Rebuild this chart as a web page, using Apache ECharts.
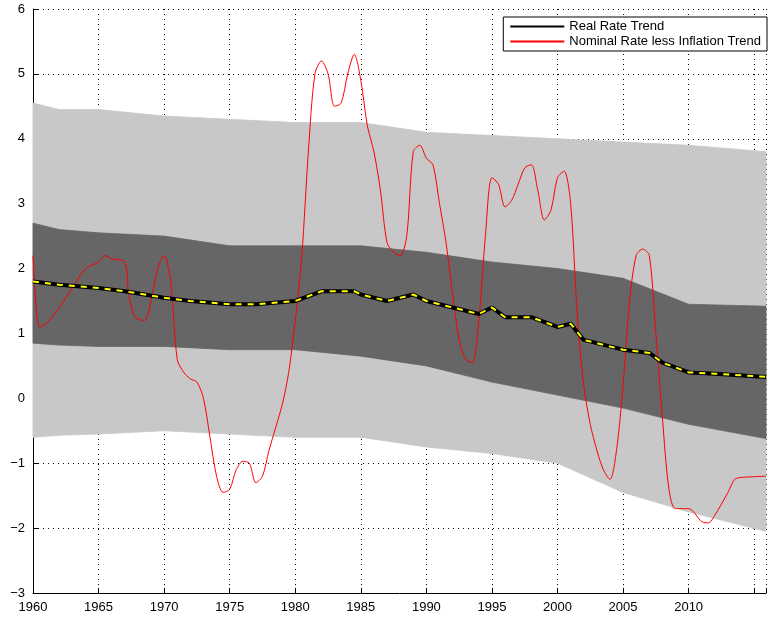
<!DOCTYPE html>
<html lang="en">
<head>
<meta charset="UTF-8">
<title>Real Rate Trend</title>
<style>
  body { margin: 0; background: #fff; }
  #chart { width: 769px; height: 622px; }
</style>
</head>
<body>
<div id="chart"></div>
<script src="https://cdn.jsdelivr.net/npm/echarts@6/dist/echarts.min.js"></script>
<script>
// band years and bounds
const bandYears  = [1960, 1962, 1965, 1970, 1975, 1980, 1985, 1990, 1995, 2000, 2005, 2010, 2015.9];
const outerUpper = [4.55, 4.45, 4.45, 4.35, 4.3, 4.25, 4.25, 4.1, 4.05, 4.0, 3.95, 3.9, 3.8];
const innerUpper = [2.7, 2.6, 2.55, 2.5, 2.35, 2.35, 2.35, 2.25, 2.1, 2.0, 1.85, 1.45, 1.42];
const innerLower = [0.85, 0.82, 0.8, 0.8, 0.75, 0.75, 0.65, 0.5, 0.25, 0.05, -0.15, -0.4, -0.62];
const outerLower = [-0.6, -0.57, -0.55, -0.5, -0.55, -0.6, -0.6, -0.75, -0.85, -1.0, -1.45, -1.75, -2.05];

// real rate trend
const trendYears = [1960, 1962, 1965, 1967, 1970, 1972, 1975, 1977, 1980, 1982, 1984.5, 1985, 1987, 1989, 1990, 1992, 1994, 1995, 1996, 1998, 2000, 2001, 2002, 2004, 2005, 2007, 2008, 2010, 2012, 2015.9];
const trend      = [1.8, 1.75, 1.7, 1.65, 1.55, 1.5, 1.45, 1.45, 1.5, 1.65, 1.65, 1.6, 1.5, 1.6, 1.5, 1.4, 1.3, 1.4, 1.25, 1.25, 1.1, 1.15, 0.9, 0.8, 0.75, 0.7, 0.55, 0.4, 0.38, 0.33];

// nominal rate less inflation trend
const nomYears = [1960, 1960.5, 1961, 1962, 1963, 1964, 1965, 1965.5, 1966, 1967, 1967.3, 1967.8, 1968.5, 1969, 1969.5, 1970, 1970.5, 1971, 1971.5, 1972, 1972.5, 1973, 1973.5, 1974, 1974.5, 1975, 1975.5, 1976, 1976.5, 1977, 1977.5, 1978, 1979, 1979.5, 1980, 1980.5, 1981, 1981.5, 1982, 1982.5, 1983, 1983.5, 1984, 1984.5, 1985, 1985.5, 1986, 1986.5, 1987, 1987.5, 1988, 1988.5, 1989, 1989.5, 1990, 1990.5, 1991, 1991.5, 1992, 1992.5, 1993, 1993.5, 1994, 1994.5, 1995, 1995.5, 1996, 1996.5, 1997, 1997.5, 1998, 1998.5, 1999, 1999.5, 2000, 2000.5, 2001, 2001.5, 2002, 2002.5, 2003, 2003.5, 2004, 2004.5, 2005, 2005.5, 2006, 2006.5, 2007, 2007.5, 2008, 2008.5, 2009, 2010, 2011, 2011.5, 2012, 2013, 2013.5, 2014, 2015.9];
const nominal  = [2.2, 1.1, 1.15, 1.4, 1.7, 2.0, 2.1, 2.2, 2.15, 2.1, 1.6, 1.25, 1.2, 1.5, 2.0, 2.2, 1.8, 0.6, 0.4, 0.3, 0.25, 0.0, -0.6, -1.2, -1.45, -1.4, -1.1, -0.97, -1.0, -1.3, -1.2, -0.8, -0.1, 0.4, 1.2, 2.2, 3.8, 5.0, 5.2, 5.0, 4.5, 4.55, 5.0, 5.3, 4.9, 4.2, 3.8, 3.2, 2.4, 2.25, 2.2, 2.5, 3.8, 3.9, 3.7, 3.6, 3.0, 2.4, 1.6, 0.9, 0.6, 0.55, 1.2, 2.5, 3.4, 3.3, 2.95, 3.05, 3.3, 3.55, 3.6, 3.2, 2.75, 2.9, 3.4, 3.5, 3.0, 1.3, 0.2, -0.4, -0.8, -1.1, -1.25, -0.8, 0.2, 1.5, 2.2, 2.3, 2.2, 1.0, -0.3, -1.4, -1.7, -1.7, -1.9, -1.92, -1.8, -1.45, -1.25, -1.22, -1.2];

const pairs = (xs, ys) => xs.map((x, i) => [x, ys[i]]);
// one row per segment: x0, lo0, hi0, x1, lo1, hi1
const bandRows = (lo, hi) => bandYears.slice(0, -1).map((x, i) => [x, lo[i], hi[i], bandYears[i + 1], lo[i + 1], hi[i + 1]]);

function bandSeries(lo, hi, color) {
  return {
    type: 'custom', silent: true, data: bandRows(lo, hi),
    encode: { x: [0, 3], y: [1, 2, 4, 5] },
    renderItem: (params, api) => {
      const a = api.coord([api.value(0), api.value(1)]);
      const b = api.coord([api.value(0), api.value(2)]);
      const c = api.coord([api.value(3), api.value(5)]);
      const d = api.coord([api.value(3), api.value(4)]);
      return { type: 'polygon', shape: { points: [a, b, c, d] }, style: { fill: color, stroke: color, lineWidth: 0.8 } };
    }
  };
}

const chart = echarts.init(document.getElementById('chart'));
chart.setOption({
  animation: false,
  grid: { left: 33, right: 1, top: 9, bottom: 29 },
  legend: {
    right: 2, top: 17, orient: 'vertical', backgroundColor: '#fff', borderColor: '#000', borderWidth: 1,
    padding: [3, 6, 3, 6], itemGap: 2, itemWidth: 54, itemHeight: 14, borderRadius: 0,
    itemStyle: { opacity: 0 },
    textStyle: { fontFamily: 'Liberation Sans', fontSize: 13, color: '#000' },
    data: ['Real Rate Trend', 'Nominal Rate less Inflation Trend']
  },
  xAxis: {
    type: 'value', min: 1960, max: 2015.9, interval: 5,
    axisLine: { onZero: false, lineStyle: { color: '#000' } },
    axisTick: { inside: true, lineStyle: { color: '#000' } },
    axisLabel: { color: '#000', fontFamily: 'Liberation Sans', fontSize: 13, formatter: v => v > 2012 ? '' : String(v) },
    splitLine: { show: true, lineStyle: { color: '#000', type: [1, 4], width: 1 } }
  },
  yAxis: {
    type: 'value', min: -3, max: 6, interval: 1,
    axisLine: { show: true, lineStyle: { color: '#000' } },
    axisTick: { show: true, inside: true, lineStyle: { color: '#000' } },
    axisLabel: { color: '#000', fontFamily: 'Liberation Sans', fontSize: 13, formatter: v => v < 0 ? '\u2212' + (-v) : String(v) },
    splitLine: { show: true, lineStyle: { color: '#000', type: [1, 4], width: 1 } }
  },
  series: [
    bandSeries(outerLower, outerUpper, '#c8c8c8'),
    bandSeries(innerLower, innerUpper, '#666666'),
    { name: 'Nominal Rate less Inflation Trend', type: 'line', symbol: 'none', smooth: 0.3, data: pairs(nomYears, nominal), lineStyle: { color: '#f00', width: 1 }, itemStyle: { color: '#f00' } },
    { name: 'Real Rate Trend', type: 'line', symbol: 'none', data: pairs(trendYears, trend), lineStyle: { color: '#000', width: 4 }, itemStyle: { color: '#000' } },
    { name: 'trendDash', type: 'line', symbol: 'none', data: pairs(trendYears, trend), lineStyle: { color: '#ffff00', width: 2, type: [6, 6] } }
  ]
});
</script>
</body>
</html>
